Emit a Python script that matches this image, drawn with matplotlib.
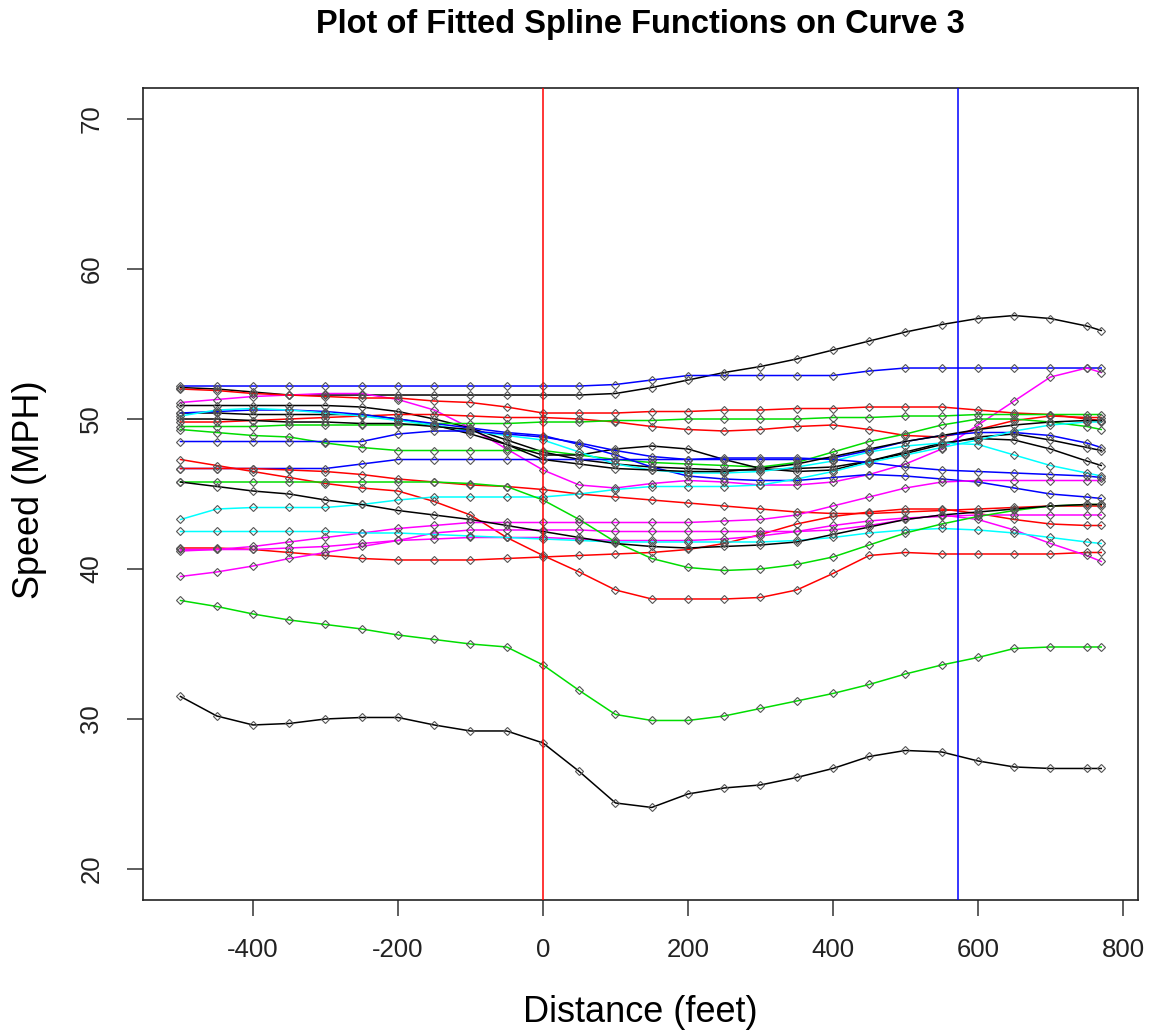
import matplotlib
matplotlib.use('Agg')
import matplotlib.pyplot as plt

# Distance grid (feet) shared by every fitted curve
distance = [-500, -450, -400, -350, -300, -250, -200, -150, -100, -50, 0, 50, 100,
            150, 200, 250, 300, 350, 400, 450, 500, 550, 600, 650, 700, 750, 770]

# Speed (MPH) of each fitted spline
black_low = [31.5, 30.2, 29.6, 29.7, 30.0, 30.1, 30.1, 29.6, 29.2, 29.2, 28.4, 26.5, 24.4,
             24.1, 25.0, 25.4, 25.6, 26.1, 26.7, 27.5, 27.9, 27.8, 27.2, 26.8, 26.7, 26.7, 26.7]
green_low = [37.9, 37.5, 37.0, 36.6, 36.3, 36.0, 35.6, 35.3, 35.0, 34.8, 33.6, 31.9, 30.3,
             29.9, 29.9, 30.2, 30.7, 31.2, 31.7, 32.3, 33.0, 33.6, 34.1, 34.7, 34.8, 34.8, 34.8]
black_top = [52.1, 52.0, 51.8, 51.6, 51.6, 51.6, 51.6, 51.6, 51.6, 51.6, 51.6, 51.6, 51.7,
             52.1, 52.6, 53.1, 53.5, 54.0, 54.6, 55.2, 55.8, 56.3, 56.7, 56.9, 56.7, 56.2, 55.9]
blue_top = [52.2, 52.2, 52.2, 52.2, 52.2, 52.2, 52.2, 52.2, 52.2, 52.2, 52.2, 52.2, 52.3,
            52.6, 52.9, 52.9, 52.9, 52.9, 52.9, 53.2, 53.4, 53.4, 53.4, 53.4, 53.4, 53.4, 53.4]
magenta_rise = [51.1, 51.3, 51.5, 51.6, 51.7, 51.7, 51.3, 50.6, 49.4, 48.0, 46.6, 45.6, 45.4,
                45.7, 45.9, 45.8, 45.6, 45.6, 45.8, 46.3, 47.0, 48.0, 49.6, 51.2, 52.8, 53.4, 53.1]
red_top = [52.0, 51.9, 51.7, 51.6, 51.5, 51.4, 51.4, 51.2, 51.1, 50.8, 50.4, 50.4, 50.4,
           50.5, 50.5, 50.6, 50.6, 50.7, 50.7, 50.8, 50.8, 50.8, 50.6, 50.4, 50.3, 50.0, 49.9]
black_a = [50.9, 50.9, 50.9, 50.9, 50.9, 50.8, 50.5, 50.0, 49.4, 48.6, 47.8, 47.3, 47.0,
           46.8, 46.7, 46.6, 46.6, 46.7, 46.8, 47.2, 47.7, 48.3, 48.8, 49.0, 48.6, 48.1, 47.9]
red_dip = [49.8, 49.8, 49.9, 50.0, 50.1, 50.2, 50.3, 50.3, 50.2, 50.1, 50.1, 50.0, 49.8,
           49.5, 49.3, 49.2, 49.3, 49.5, 49.6, 49.3, 48.9, 48.8, 49.3, 49.9, 50.2, 50.1, 50.1]
green_flat = [49.5, 49.5, 49.5, 49.6, 49.6, 49.6, 49.6, 49.7, 49.7, 49.7, 49.8, 49.8, 49.9,
              49.9, 50.0, 50.0, 50.0, 50.0, 50.1, 50.1, 50.2, 50.2, 50.3, 50.3, 50.3, 50.3, 50.3]
green_mid = [49.3, 49.1, 48.9, 48.8, 48.4, 48.1, 47.9, 47.9, 47.9, 47.9, 47.9, 47.6, 47.3,
             47.1, 47.0, 46.9, 46.8, 47.1, 47.8, 48.5, 49.0, 49.6, 50.0, 50.0, 49.8, 49.5, 49.3]
black_b = [50.4, 50.4, 50.3, 50.3, 50.3, 50.3, 50.0, 49.6, 49.0, 48.3, 47.6, 47.6, 48.0,
           48.2, 48.0, 47.3, 46.7, 46.5, 46.6, 47.2, 47.8, 48.4, 48.7, 48.6, 48.0, 47.2, 46.9]
blue_fall = [50.4, 50.5, 50.6, 50.6, 50.5, 50.3, 50.0, 49.7, 49.4, 49.1, 48.9, 48.3, 47.6,
             46.8, 46.2, 46.0, 45.9, 45.9, 46.1, 46.3, 46.2, 46.0, 45.8, 45.4, 45.0, 44.8, 44.7]
cyan_a = [50.2, 50.6, 50.7, 50.6, 50.4, 50.2, 49.9, 49.6, 49.2, 48.9, 48.6, 47.8, 47.0,
          46.6, 46.4, 46.4, 46.5, 46.8, 47.2, 47.8, 48.2, 48.4, 48.3, 47.6, 46.9, 46.4, 46.2]
blue_a = [48.5, 48.5, 48.5, 48.5, 48.5, 48.5, 49.0, 49.2, 49.2, 49.0, 48.8, 48.4, 47.9,
          47.5, 47.3, 47.3, 47.3, 47.3, 47.4, 47.9, 48.5, 48.9, 49.1, 49.1, 48.9, 48.4, 48.1]
blue_b = [46.7, 46.7, 46.7, 46.7, 46.7, 47.0, 47.3, 47.3, 47.3, 47.3, 47.3, 47.3, 47.3,
          47.3, 47.3, 47.4, 47.4, 47.4, 47.3, 47.1, 46.8, 46.6, 46.5, 46.4, 46.3, 46.2, 46.1]
red_bigdip = [47.3, 46.9, 46.5, 46.1, 45.7, 45.4, 45.2, 44.5, 43.6, 42.1, 40.9, 39.8, 38.6,
              38.0, 38.0, 38.0, 38.1, 38.6, 39.7, 40.9, 41.1, 41.0, 41.0, 41.0, 41.0, 41.1, 41.1]
red_low = [41.4, 41.4, 41.3, 41.1, 40.9, 40.7, 40.6, 40.6, 40.6, 40.7, 40.8, 40.9, 41.0,
           41.1, 41.3, 41.7, 42.3, 43.0, 43.5, 43.8, 44.0, 44.0, 43.7, 43.3, 43.0, 42.9, 42.9]
red_mid = [46.7, 46.7, 46.7, 46.6, 46.5, 46.3, 46.0, 45.8, 45.6, 45.5, 45.3, 45.0, 44.8,
           44.6, 44.4, 44.2, 44.0, 43.8, 43.7, 43.7, 43.8, 43.9, 44.0, 44.1, 44.2, 44.2, 44.2]
magenta_a = [41.2, 41.3, 41.5, 41.8, 42.1, 42.4, 42.7, 42.9, 43.1, 43.1, 43.1, 43.1, 43.1,
             43.1, 43.1, 43.2, 43.3, 43.6, 44.2, 44.8, 45.4, 45.8, 45.9, 45.9, 45.9, 45.9, 45.9]
magenta_b = [39.5, 39.8, 40.2, 40.7, 41.1, 41.5, 41.9, 42.4, 42.6, 42.6, 42.6, 42.6, 42.5,
             42.5, 42.5, 42.5, 42.5, 42.5, 42.6, 42.9, 43.3, 43.6, 43.3, 42.6, 41.7, 40.9, 40.5]
magenta_c = [41.3, 41.3, 41.3, 41.4, 41.5, 41.7, 41.9, 42.0, 42.1, 42.1, 42.1, 42.0, 41.9,
             41.9, 41.9, 42.0, 42.2, 42.5, 42.9, 43.2, 43.4, 43.5, 43.6, 43.6, 43.6, 43.6, 43.6]
cyan_b = [43.3, 44.0, 44.1, 44.1, 44.1, 44.3, 44.6, 44.8, 44.8, 44.8, 44.8, 45.0, 45.3,
          45.5, 45.5, 45.5, 45.6, 46.0, 46.5, 47.1, 47.6, 48.1, 48.6, 49.2, 49.6, 49.8, 49.8]
cyan_c = [42.5, 42.5, 42.5, 42.5, 42.5, 42.4, 42.4, 42.3, 42.2, 42.1, 42.0, 41.9, 41.8,
          41.8, 41.8, 41.8, 41.8, 41.9, 42.1, 42.4, 42.6, 42.7, 42.6, 42.4, 42.1, 41.8, 41.7]
green_drop = [45.8, 45.8, 45.8, 45.8, 45.8, 45.8, 45.8, 45.8, 45.7, 45.5, 44.6, 43.3, 41.8,
              40.7, 40.1, 39.9, 40.0, 40.3, 40.8, 41.6, 42.4, 43.0, 43.5, 43.9, 44.2, 44.3, 44.3]
black_c = [50.0, 50.0, 49.9, 49.8, 49.8, 49.7, 49.7, 49.5, 49.3, 48.3, 47.3, 47.0, 46.7,
           46.6, 46.5, 46.5, 46.7, 47.0, 47.5, 48.0, 48.5, 48.9, 49.3, 49.6, 49.8, 49.9, 49.9]
black_d = [45.8, 45.5, 45.2, 45.0, 44.6, 44.3, 43.9, 43.6, 43.3, 42.9, 42.5, 42.1, 41.7,
           41.5, 41.4, 41.5, 41.6, 41.8, 42.3, 42.8, 43.3, 43.6, 43.8, 44.0, 44.2, 44.3, 44.3]

# curve start / end of the section
curve_start = 0
curve_end = 572

x_ticks = [-400, -200, 0, 200, 400, 600, 800]
y_ticks = [20, 30, 40, 50, 60, 70]

BLACK = 'black'
RED = '#FF0000'
GREEN = '#00DD00'
BLUE = '#0000FF'
CYAN = '#00FFFF'
MAGENTA = '#FF00FF'

curves = [
    (black_low, BLACK), (green_low, GREEN), (black_top, BLACK), (blue_top, BLUE),
    (magenta_rise, MAGENTA), (red_top, RED), (black_a, BLACK), (red_dip, RED),
    (green_flat, GREEN), (green_mid, GREEN), (black_b, BLACK), (blue_fall, BLUE),
    (cyan_a, CYAN), (blue_a, BLUE), (blue_b, BLUE), (red_bigdip, RED),
    (red_low, RED), (red_mid, RED), (magenta_a, MAGENTA), (magenta_b, MAGENTA),
    (magenta_c, MAGENTA), (cyan_b, CYAN), (cyan_c, CYAN), (green_drop, GREEN),
    (black_c, BLACK), (black_d, BLACK),
]

plt.rcParams['font.family'] = ['Liberation Sans', 'DejaVu Sans']

fig = plt.figure(figsize=(11.54, 10.36), dpi=100)
ax = fig.add_axes([143 / 1154, 1 - 900 / 1036, (1138 - 143) / 1154, (900 - 88) / 1036])

# fitted splines
for speeds, color in curves:
    ax.plot(distance, speeds, color=color, linewidth=1.1, zorder=2)

# observed points
for speeds, color in curves:
    ax.plot(distance, speeds, linestyle='none', marker='D', markersize=4.3,
            markerfacecolor='none', markeredgecolor='#555555', markeredgewidth=0.8, zorder=3)

ax.axvline(curve_start, color=RED, linewidth=1.1, zorder=4)
ax.axvline(curve_end, color=BLUE, linewidth=1.1, zorder=4)

ax.set_xlim(-551.7, 820.7)
ax.set_ylim(17.93, 72.07)
ax.set_xticks(x_ticks)
ax.set_yticks(y_ticks)
ax.set_xticklabels([str(v) for v in x_ticks])
ax.set_yticklabels([str(v) for v in y_ticks], rotation=90, va='center')

for spine in ax.spines.values():
    spine.set_color('#222222')
    spine.set_linewidth(1.2)
ax.tick_params(direction='out', length=11.5, width=1.1, color='#333333',
               labelsize=18.5, labelcolor='#222222')
ax.tick_params(axis='x', pad=16)
ax.tick_params(axis='y', pad=17)

fig.text(640.5 / 1154, 1 - 24 / 1036, 'Plot of Fitted Spline Functions on Curve 3',
         ha='center', va='center', fontsize=23.5, fontweight='bold')
fig.text(640.5 / 1154, 1 - 1013 / 1036, 'Distance (feet)',
         ha='center', va='center', fontsize=26)
fig.text(30 / 1154, 1 - 490 / 1036, 'Speed (MPH)',
         ha='center', va='center', fontsize=26, rotation=90)

fig.savefig('out.png', dpi=100)
